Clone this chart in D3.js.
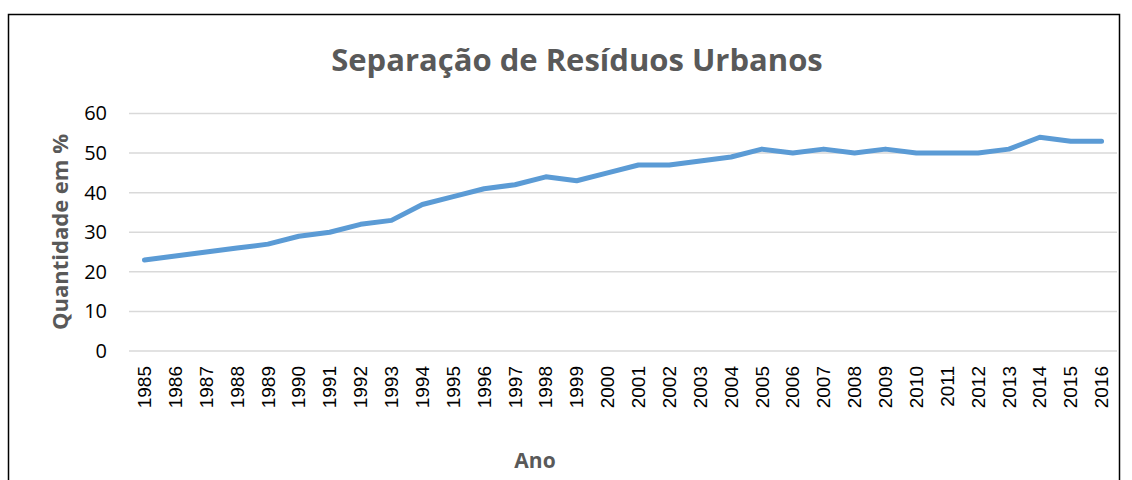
<!DOCTYPE html>
<html>
<head>
<meta charset="utf-8">
<script src="https://cdn.jsdelivr.net/npm/d3@7"></script>
<style>
  body { margin: 0; background: #fff; }
  svg { display: block; }
</style>
</head>
<body>
<svg id="chart" width="1132" height="480"></svg>
<script>
const years = ['1985', '1986', '1987', '1988', '1989', '1990', '1991', '1992', '1993', '1994', '1995', '1996', '1997', '1998', '1999', '2000',
  '2001', '2002', '2003', '2004', '2005', '2006', '2007', '2008', '2009', '2010', '2011', '2012', '2013', '2014', '2015', '2016'];
const values = [23, 24, 25, 26, 27, 29, 30, 32, 33, 37, 39, 41, 42, 44, 43, 45,
  47, 47, 48, 49, 51, 50, 51, 50, 51, 50, 50, 50, 51, 54, 53, 53];
const yTicks = [0, 10, 20, 30, 40, 50, 60];

const width = 1132, height = 480;
const margin = { top: 113.5, right: 15, bottom: 129, left: 129 };
const innerWidth = width - margin.left - margin.right;
const innerHeight = height - margin.top - margin.bottom;

const svg = d3.select('#chart');

// chart frame, open at the bottom where the picture is cropped
svg.append('path')
  .attr('d', 'M8.5,480 V14.5 H1119.5 V480')
  .attr('fill', 'none').attr('stroke', '#000').attr('stroke-width', 1.5);

svg.append('text')
  .attr('x', 577).attr('y', 71)
  .attr('text-anchor', 'middle')
  .attr('font-family', 'Open Sans, sans-serif')
  .attr('font-weight', 'bold')
  .attr('font-size', 31)
  .attr('fill', '#595959')
  .text('Separação de Resíduos Urbanos');

const g = svg.append('g').attr('transform', `translate(${margin.left},${margin.top})`);

const x = d3.scaleBand().domain(years).range([0, innerWidth]);
const y = d3.scaleLinear().domain([0, 60]).range([innerHeight, 0]);

g.append('g')
  .selectAll('line')
  .data(yTicks)
  .enter()
  .append('line')
  .attr('x1', 0).attr('x2', innerWidth)
  .attr('y1', (d) => y(d)).attr('y2', (d) => y(d))
  .attr('stroke', '#d9d9d9').attr('stroke-width', 1.5);

const yAxis = g.append('g')
  .call(d3.axisLeft(y).tickValues(yTicks).tickSize(0).tickPadding(22));
yAxis.select('.domain').remove();
yAxis.selectAll('text')
  .attr('font-family', 'Open Sans, sans-serif')
  .attr('font-size', 20)
  .attr('fill', '#000');

const xAxis = g.append('g')
  .attr('transform', `translate(0,${innerHeight})`)
  .call(d3.axisBottom(x).tickSize(0));
xAxis.select('.domain').remove();
xAxis.selectAll('text')
  .attr('font-family', 'Liberation Sans, Arial, sans-serif')
  .attr('font-size', 19)
  .attr('fill', '#000')
  .attr('transform', 'rotate(-90)')
  .attr('x', -15)
  .attr('y', 0)
  .attr('dy', '0.35em')
  .style('text-anchor', 'end');

const line = d3.line()
  .x((d, i) => x(years[i]) + x.bandwidth() / 2)
  .y((d) => y(d));

g.append('path')
  .datum(values)
  .attr('d', line)
  .attr('fill', 'none')
  .attr('stroke', '#5b9bd5')
  .attr('stroke-width', 5)
  .attr('stroke-linejoin', 'round')
  .attr('stroke-linecap', 'round');

svg.append('text')
  .attr('transform', 'translate(68,232) rotate(-90)')
  .attr('text-anchor', 'middle')
  .attr('font-family', 'Open Sans, sans-serif')
  .attr('font-weight', 'bold')
  .attr('font-size', 22)
  .attr('fill', '#595959')
  .text('Quantidade em %');

svg.append('text')
  .attr('x', 535).attr('y', 468)
  .attr('text-anchor', 'middle')
  .attr('font-family', 'Open Sans, sans-serif')
  .attr('font-weight', 'bold')
  .attr('font-size', 21)
  .attr('fill', '#595959')
  .text('Ano');
</script>
</body>
</html>
